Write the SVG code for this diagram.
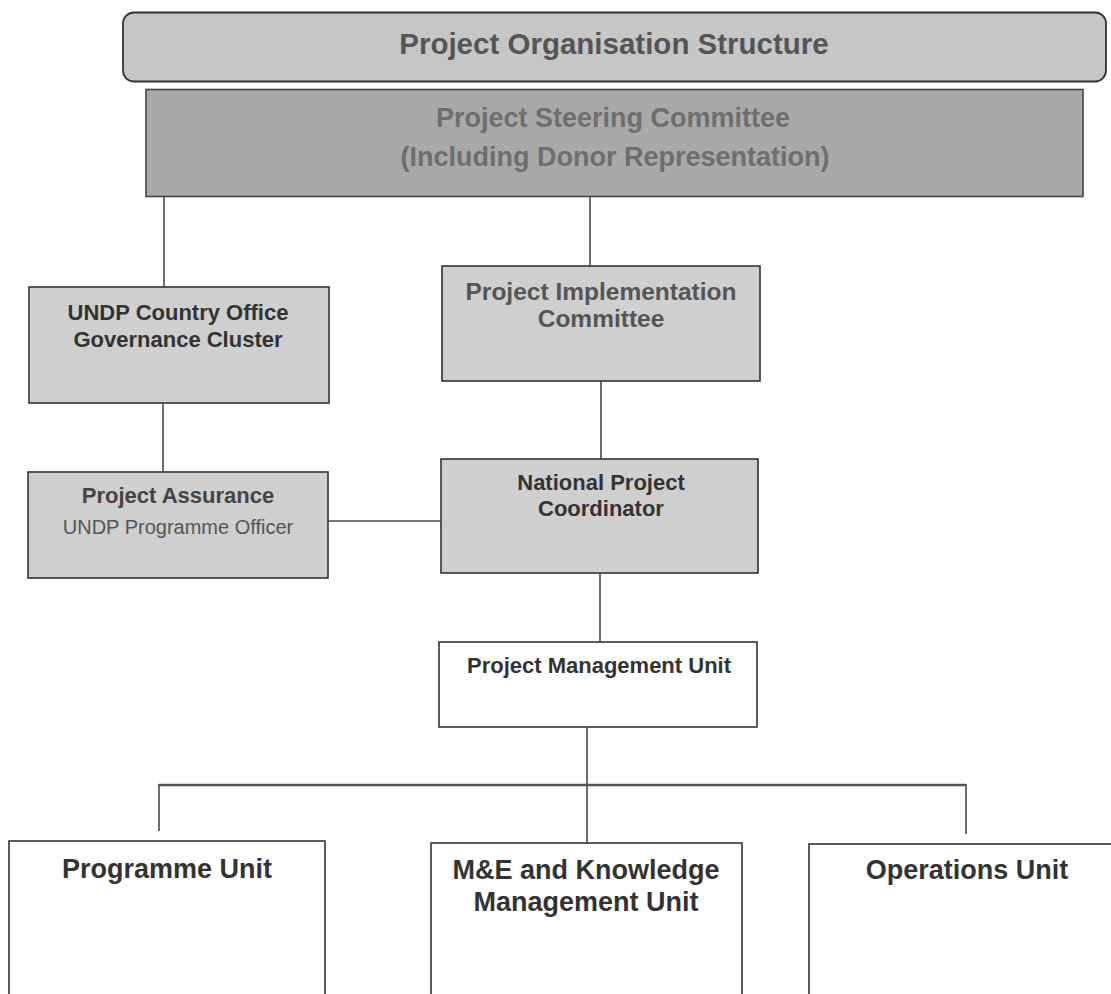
<svg xmlns="http://www.w3.org/2000/svg" width="1111" height="994" viewBox="0 0 1111 994">
<style>
  .t { font-family: "Liberation Sans", Arial, sans-serif; font-weight: bold; text-anchor: middle; }
  .r { font-family: "Liberation Sans", Arial, sans-serif; font-weight: normal; text-anchor: middle; }
  .box { stroke: #333; stroke-width: 1.6; }
  .grey { fill: #cfcfcf; }
  .white { fill: #ffffff; }
  .conn line { stroke: #4a4a4a; stroke-width: 1.6; }
</style>
<rect width="1111" height="994" fill="#ffffff"/>
<g id="title">
  <rect x="123" y="12.5" width="983" height="69" rx="11" fill="#c6c6c6" stroke="#333" stroke-width="1.8"/>
  <text class="t" x="614" y="54" font-size="29.5" fill="#555">Project Organisation Structure</text>
</g>
<g id="steering">
  <rect x="146" y="89.5" width="937" height="107" fill="#a9a9a9" stroke="#444" stroke-width="1.6"/>
  <text class="t" x="613" y="127" font-size="27" fill="#6e6e6e">Project Steering Committee</text>
  <text class="t" x="615" y="166" font-size="27" fill="#6e6e6e">(Including Donor Representation)</text>
</g>
<g id="undp">
  <rect class="box grey" x="29" y="287" width="300" height="116"/>
  <text class="t" x="178" y="320" font-size="22" fill="#333">UNDP Country Office</text>
  <text class="t" x="178" y="347" font-size="22" fill="#333">Governance Cluster</text>
</g>
<g id="assurance">
  <rect class="box grey" x="28" y="472" width="300" height="106"/>
  <text class="t" x="178" y="503" font-size="22" fill="#444">Project Assurance</text>
  <text class="r" x="178" y="534" font-size="20" fill="#555">UNDP Programme Officer</text>
</g>
<g id="implementation">
  <rect class="box grey" x="442" y="266" width="318" height="115"/>
  <text class="t" x="601" y="300" font-size="24.5" fill="#555">Project Implementation</text>
  <text class="t" x="601" y="327" font-size="24.5" fill="#555">Committee</text>
</g>
<g id="coordinator">
  <rect class="box grey" x="441" y="459" width="317" height="114"/>
  <text class="t" x="601" y="490" font-size="22" fill="#333">National Project</text>
  <text class="t" x="601" y="516" font-size="22" fill="#333">Coordinator</text>
</g>
<g id="pmu">
  <rect class="box white" x="439" y="642" width="318" height="85"/>
  <text class="t" x="599" y="673" font-size="22" fill="#333">Project Management Unit</text>
</g>
<g id="programme">
  <rect class="box white" x="9" y="841" width="316" height="170"/>
  <text class="t" x="167" y="878" font-size="27" fill="#333">Programme Unit</text>
</g>
<g id="me">
  <rect class="box white" x="431" y="843" width="311" height="170"/>
  <text class="t" x="586" y="879" font-size="27" fill="#333">M&amp;E and Knowledge</text>
  <text class="t" x="586" y="911" font-size="27" fill="#333">Management Unit</text>
</g>
<g id="operations">
  <rect class="box white" x="809" y="844" width="320" height="170"/>
  <text class="t" x="967" y="879" font-size="27" fill="#333">Operations Unit</text>
</g>
<g id="connectors" class="conn">
  <line x1="164" y1="197" x2="164" y2="287"/>
  <line x1="590" y1="197" x2="590" y2="266"/>
  <line x1="163" y1="403" x2="163" y2="472"/>
  <line x1="328" y1="521" x2="441" y2="521"/>
  <line x1="601" y1="381" x2="601" y2="459"/>
  <line x1="600" y1="573" x2="600" y2="642"/>
  <line x1="587" y1="727" x2="587" y2="843"/>
  <line x1="159" y1="785" x2="966" y2="785" style="stroke-width:2.6;stroke:#555"/>
  <line x1="159" y1="784" x2="159" y2="831"/>
  <line x1="966" y1="784" x2="966" y2="834"/>
</g>
</svg>
